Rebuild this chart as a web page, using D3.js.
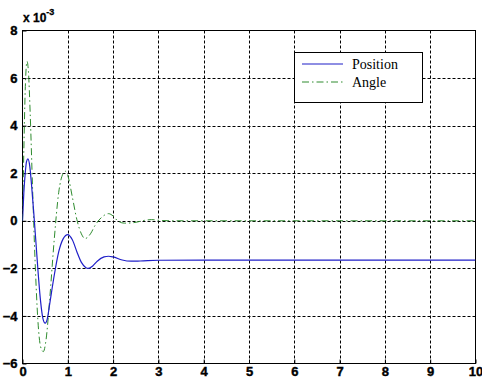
<!DOCTYPE html>
<html>
<head>
<meta charset="utf-8">
<script src="https://cdn.jsdelivr.net/npm/d3@7"></script>
<style>
  html, body { margin: 0; padding: 0; background: #fff; }
  svg { display: block; }
</style>
</head>
<body>
<svg id="chart" width="482" height="381"></svg>
<script>
// Step response samples, values in units of 1e-3
const timePosition = [0, 0.03, 0.06, 0.09, 0.12, 0.16, 0.2, 0.25, 0.3, 0.35, 0.4, 0.45, 0.5, 0.55, 0.6, 0.7, 0.8, 0.9, 1.0, 1.1, 1.2, 1.3, 1.4, 1.45, 1.55, 1.65, 1.8, 1.9, 2.0, 2.2, 2.4, 2.6, 3.0, 4, 5, 6, 7, 8, 9, 10];
const position = [0, 1.2, 2.0, 2.5, 2.6, 2.3, 1.5, 0.3, -1.0, -2.3, -3.4, -4.1, -4.3, -4.1, -3.5, -2.3, -1.3, -0.75, -0.58, -0.8, -1.3, -1.75, -1.97, -2.0, -1.9, -1.7, -1.52, -1.49, -1.52, -1.65, -1.7, -1.69, -1.66, -1.65, -1.65, -1.65, -1.65, -1.65, -1.65, -1.65];

const timeAngle = [0, 0.03, 0.06, 0.1, 0.13, 0.17, 0.22, 0.28, 0.34, 0.4, 0.46, 0.52, 0.6, 0.7, 0.8, 0.9, 0.95, 1.0, 1.1, 1.2, 1.3, 1.38, 1.5, 1.6, 1.75, 1.9, 2.0, 2.1, 2.25, 2.45, 2.7, 2.85, 3.0, 3.3, 4, 5, 6, 7, 8, 9, 10];
const angle = [0, 3.0, 5.5, 6.7, 6.3, 4.5, 1.5, -1.8, -4.2, -5.3, -5.5, -5.0, -3.3, -0.8, 1.2, 2.0, 2.08, 1.9, 1.0, 0.05, -0.55, -0.75, -0.55, -0.2, 0.15, 0.3, 0.2, 0.0, -0.1, -0.08, 0.02, 0.05, 0.02, 0, 0, 0, 0, 0, 0, 0, 0];

const xTicks = [0, 1, 2, 3, 4, 5, 6, 7, 8, 9, 10];
const yTicks = [-6, -4, -2, 0, 2, 4, 6, 8];
const seriesNames = ["Position", "Angle"];

const svg = d3.select("#chart");
const pLeft = 22.5, pRight = 475.5, pTop = 30.5, pBottom = 363.5;

const x = d3.scaleLinear().domain([0, 10]).range([pLeft, pRight]);
const y = d3.scaleLinear().domain([-6, 8]).range([pBottom, pTop]);

// grid
const grid = svg.append("g").attr("stroke", "#000").attr("stroke-width", 1).attr("stroke-dasharray", "3,2");
grid.selectAll("line.v").data(xTicks.slice(1, -1)).join("line")
  .attr("x1", d => Math.round(x(d)) + 0.5).attr("x2", d => Math.round(x(d)) + 0.5)
  .attr("y1", pTop).attr("y2", pBottom);
grid.selectAll("line.h").data(yTicks.slice(1, -1)).join("line")
  .attr("y1", d => Math.round(y(d)) + 0.5).attr("y2", d => Math.round(y(d)) + 0.5)
  .attr("x1", pLeft).attr("x2", pRight);

// frame
svg.append("rect").attr("x", pLeft).attr("y", pTop)
  .attr("width", pRight - pLeft).attr("height", pBottom - pTop)
  .attr("fill", "none").attr("stroke", "#000").attr("stroke-width", 1);

// axes (tick labels, short ticks drawn inward)
const xAxis = d3.axisBottom(x).tickValues(xTicks).tickSize(-4).tickPadding(4).tickFormat(d3.format("d"));
const yAxis = d3.axisLeft(y).tickValues(yTicks).tickSize(-4).tickPadding(5).tickFormat(d3.format("d"));

const gx = svg.append("g").attr("transform", `translate(0,${pBottom})`).call(xAxis);
const gy = svg.append("g").attr("transform", `translate(${pLeft},0)`).call(yAxis);
[gx, gy].forEach(g => {
  g.select(".domain").remove();
  g.selectAll("line").attr("stroke", "#000");
  g.selectAll("text").attr("fill", "#000")
    .attr("stroke", "#000").attr("stroke-width", 0.4)
    .style("font-family", "'Liberation Sans', Arial, sans-serif")
    .style("font-weight", "bold").style("font-size", "13px");
});
gx.selectAll("text").attr("dy", "0.68em");

// exponent label
const expo = svg.append("text").attr("x", 23).attr("y", 22)
  .attr("stroke", "#000").attr("stroke-width", 0.3)
  .style("font-family", "'Liberation Sans', Arial, sans-serif")
  .style("font-weight", "bold").style("font-size", "12px").attr("fill", "#000");
expo.append("tspan").text("x 10");
expo.append("tspan").attr("dy", -7).style("font-size", "9px").text("-3");

// curves
const line = d3.line().x(d => x(d[0])).y(d => y(d[1])).curve(d3.curveMonotoneX);
const posData = timePosition.map((t, i) => [t, position[i]]);
const angData = timeAngle.map((t, i) => [t, angle[i]]);

svg.append("clipPath").attr("id", "plotclip").append("rect")
  .attr("x", pLeft).attr("y", pTop).attr("width", pRight - pLeft).attr("height", pBottom - pTop);

const plot = svg.append("g").attr("clip-path", "url(#plotclip)");
plot.append("path").datum(angData).attr("d", line)
  .attr("fill", "none").attr("stroke", "#2e8b2e").attr("stroke-width", 1)
  .attr("stroke-dasharray", "7,3,1.5,3");
plot.append("path").datum(posData).attr("d", line)
  .attr("fill", "none").attr("stroke", "#1f1fc8").attr("stroke-width", 1.2);

// legend
const lg = svg.append("g");
lg.append("rect").attr("x", 294.5).attr("y", 52.5).attr("width", 128).attr("height", 50)
  .attr("fill", "#fff").attr("stroke", "#000").attr("stroke-width", 1);
const legendStyles = [
  { color: "#1f1fc8", dash: null, w: 1.2 },
  { color: "#2e8b2e", dash: "7,3,1.5,3", w: 1 }
];
seriesNames.forEach((name, i) => {
  const yy = 64 + i * 18;
  lg.append("line").attr("x1", 302).attr("x2", 343).attr("y1", yy).attr("y2", yy)
    .attr("stroke", legendStyles[i].color).attr("stroke-width", legendStyles[i].w)
    .attr("stroke-dasharray", legendStyles[i].dash);
  lg.append("text").attr("x", 352).attr("y", yy + 4.5).text(name)
    .style("font-family", "'Liberation Serif', 'Times New Roman', serif")
    .style("font-size", "14px").attr("fill", "#000");
});
</script>
</body>
</html>
